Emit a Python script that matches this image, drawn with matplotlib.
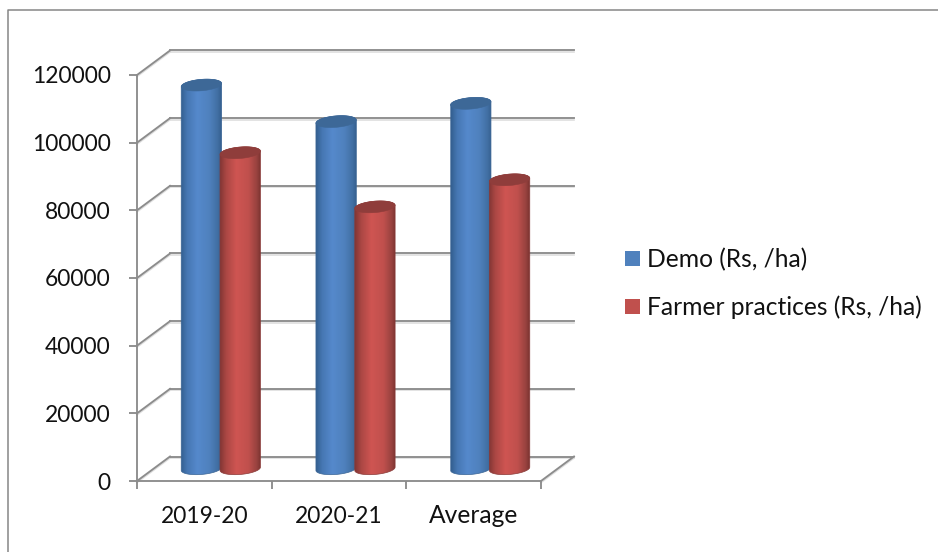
import numpy as np
import matplotlib
matplotlib.use("Agg")
import matplotlib.pyplot as plt
from matplotlib.colors import LinearSegmentedColormap
from matplotlib.lines import Line2D
from matplotlib.patches import PathPatch, Patch
from matplotlib.path import Path
from matplotlib.transforms import Affine2D

categories = ["2019-20", "2020-21", "Average"]
demo = [113400, 102600, 108000]
farmer = [93400, 77400, 85400]
series_names = ["Demo (Rs, /ha)", "Farmer practices (Rs, /ha)"]
y_ticks = [0, 20000, 40000, 60000, 80000, 100000, 120000]

W, H = 938, 552
plt.rcParams["font.family"] = ["Lato", "DejaVu Sans"]
FONT = 16.4
LEGEND_FONT = 17.7
GREY = "#8c8c8c"
SHADOW = "#dedede"
INK = "#111111"

fig = plt.figure(figsize=(W / 100, H / 100), dpi=100, facecolor="white")
left, right, top, bottom = 137, 541, 75, 481
ax = fig.add_axes([left / W, 1 - bottom / H, (right - left) / W, (bottom - top) / H])
ax.patch.set_alpha(0)
ax.set_autoscale_on(False)
ax.set_xlim(0, 3)
ax.set_ylim(0, 120000)

# data units per display pixel
ux = 3 / (right - left)
uy = 120000 / (bottom - top)

# outer chart frame, open on the right and at the bottom
fig.add_artist(Line2D([8 / W, 8 / W, 1], [0, 1 - 9.5 / H, 1 - 9.5 / H],
                      transform=fig.transFigure, color="#868686", lw=1.1))

# the back wall sits at a fixed pixel offset from the front axes
DX, DY = 33, 24.5
back = ax.transData + Affine2D().translate(DX, DY)
mid = ax.transData + Affine2D().translate(DX / 2, DY / 2)
LINE_LAYERS = ((-1.5, SHADOW, 1.2), (0, GREY, 1.35))

for v in y_ticks:
    x0, y0 = ax.transData.transform((0, v))
    for off, col, lw in LINE_LAYERS:
        ax.plot([0, 3], [v, v], color=col, lw=lw, clip_on=False, zorder=1,
                transform=back + Affine2D().translate(0, off))
        # diagonal from the front axis tick up to the wall
        ax.plot([x0, x0 + DX], [y0, y0 + DY], color=col, lw=lw, clip_on=False, zorder=1,
                transform=Affine2D().translate(0, off))

# right-hand floor edge
x0, y0 = ax.transData.transform((3, 0))
for off, col, lw in LINE_LAYERS:
    ax.plot([x0, x0 + DX], [y0, y0 + DY], color=col, lw=lw, clip_on=False, zorder=1,
            transform=Affine2D().translate(0, off))

blue_map = LinearSegmentedColormap.from_list(
    "blue", [(0, "#345f90"), (0.15, "#4677b3"), (0.4, "#5589cc"), (0.7, "#4f81bd"),
             (0.9, "#416fa3"), (1, "#345e8c")])
red_map = LinearSegmentedColormap.from_list(
    "red", [(0, "#823634"), (0.15, "#ab4744"), (0.4, "#cf5552"), (0.7, "#c0504d"),
            (0.9, "#98423f"), (1, "#7a3230")])
TOP_BLUE, TOP_RED = "#3d6897", "#8f3d3b"
EDGE_BLUE, EDGE_RED = "#3a6595", "#8a3a38"

HALF = 20.2 * ux      # cylinder half width
ELL = 5.7 * uy        # ellipse half height
TILT = 1.6 * uy       # right side of each ellipse rises slightly
SHIFT = 19.4 * ux     # centre of a cylinder relative to its category


def arc(cx, cy, t):
    return np.c_[cx + HALF * np.cos(t), cy + ELL * np.sin(t) + TILT * np.cos(t)]


def cylinder(cx, value, cmap, top_col, edge_col, z):
    t_low = np.linspace(np.pi, 2 * np.pi, 60)
    t_up = np.linspace(0, np.pi, 60)
    verts = np.vstack([arc(cx, 0, t_low), arc(cx, value, t_up)])
    body = PathPatch(Path(np.vstack([verts, verts[0]]), closed=True), transform=mid,
                     facecolor="none", edgecolor=edge_col, lw=0.5, zorder=z + 0.1,
                     clip_on=False)
    ax.add_patch(body)
    grad = np.linspace(0, 1, 128)[None, :]
    im = ax.imshow(grad, cmap=cmap, aspect="auto", transform=mid, zorder=z,
                   extent=(cx - HALF, cx + HALF, -2 * ELL, value + 2 * ELL),
                   interpolation="bilinear")
    im.set_clip_path(body)
    lid = arc(cx, value, np.linspace(0, 2 * np.pi, 90))
    ax.add_patch(PathPatch(Path(lid, closed=True), transform=mid, facecolor=top_col,
                           edgecolor=top_col, lw=0.4, zorder=z + 0.2, clip_on=False))


for i, (d, f) in enumerate(zip(demo, farmer)):
    cylinder(i + 0.5 - SHIFT, d, blue_map, TOP_BLUE, EDGE_BLUE, 3 + i)
    cylinder(i + 0.5 + SHIFT, f, red_map, TOP_RED, EDGE_RED, 3.5 + i)

ax.set_xlim(0, 3)
ax.set_ylim(0, 120000)

for name in ("top", "right"):
    ax.spines[name].set_visible(False)
for name in ("left", "bottom"):
    ax.spines[name].set_color(GREY)
    ax.spines[name].set_linewidth(1.35)

ax.set_yticks(y_ticks)
ax.set_xticks([0, 1, 2, 3])
ax.set_xticklabels([])
ax.set_xticks([0.5, 1.5, 2.5], labels=categories, minor=True)
ax.tick_params(axis="y", length=5.8, width=1.35, color=GREY, pad=13, labelsize=FONT,
               labelcolor=INK)
ax.tick_params(axis="x", which="major", length=5.8, width=1.35, color=GREY)
ax.tick_params(axis="x", which="minor", length=0, pad=18, labelsize=FONT, labelcolor=INK)
# the word label runs narrower than the digits at one size, so it gets a larger
# size and a small lift to keep the baseline level with its neighbours
word_label = ax.get_xticklabels(minor=True)[2]
word_label.set_fontsize(LEGEND_FONT)
word_label.set_transform(word_label.get_transform() + Affine2D().translate(0, 2))

ax.legend(handles=[Patch(facecolor="#4f81bd", label=series_names[0]),
                   Patch(facecolor="#c0504d", label=series_names[1])],
          loc="center left", bbox_to_anchor=(625 / W, 1 - 283.5 / H),
          bbox_transform=fig.transFigure, frameon=False, fontsize=LEGEND_FONT,
          borderpad=0, borderaxespad=0, handlelength=0.61, handleheight=0.61,
          handletextpad=0.28, labelspacing=1.0, labelcolor=INK)

fig.savefig("out.png", dpi=100, facecolor="white")
